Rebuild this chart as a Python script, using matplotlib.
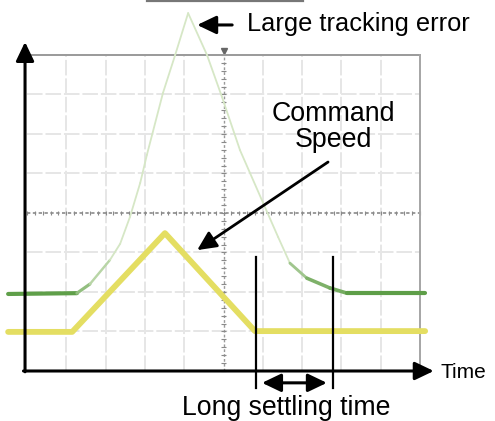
import numpy as np
import matplotlib
matplotlib.use("Agg")
import matplotlib.pyplot as plt
from matplotlib.collections import LineCollection
from matplotlib.colors import to_rgb

plt.rcParams["font.family"] = ["Liberation Sans", "DejaVu Sans"]

# Scope traces (x = time in divisions, y = level in divisions)
tracking_t = [-0.48, 1.27, 1.60, 2.11, 2.37, 2.62, 2.88, 3.05, 3.46, 3.77, 4.10,
              4.58, 4.96, 5.42, 6.01, 6.39, 6.69, 7.12, 7.71, 8.14, 10.13]
tracking_v = [1.95, 1.97, 2.20, 2.81, 3.22, 3.90, 4.76, 5.47, 7.04, 8.00, 9.06,
              8.00, 6.94, 5.59, 4.25, 3.39, 2.73, 2.35, 2.10, 1.97, 1.97]

speed_t = [-0.48, 1.15, 3.51, 5.80, 10.13]
speed_v = [0.99, 0.99, 3.49, 1.01, 1.01]

n_xdiv = 10
n_ydiv = 8

fig = plt.figure(figsize=(4.95, 4.21), dpi=100)
ax = fig.add_axes([0, 0, 1, 1])
ax.set_xlim(-0.687, 11.908)
ax.set_ylim(-1.266, 9.392)
ax.axis("off")

# scope grid (very faint)
for gx in range(1, n_xdiv):
    if gx != n_xdiv // 2:
        ax.plot([gx, gx], [0, n_ydiv], color="#e6e6e6", lw=1.4, ls=(0, (8, 1.5)), zorder=1)
for gy in range(1, n_ydiv):
    if gy != n_ydiv // 2:
        ax.plot([0, n_xdiv], [gy, gy], color="#e6e6e6", lw=1.4, ls=(0, (8, 1.5)), zorder=1)

# centre lines with minor ticks
ax.plot([0, n_xdiv], [n_ydiv / 2] * 2, color="#8a8a8a", lw=1.2, ls=(0, (2, 1.5)), zorder=1)
ax.plot([n_xdiv / 2] * 2, [0, n_ydiv], color="#9a9a9a", lw=1.0, ls=(0, (2, 1.5)), zorder=1)
minor_x = np.arange(0, n_xdiv + 0.01, 0.2)
minor_y = np.arange(0, n_ydiv + 0.01, 0.2)
ax.vlines(minor_x, n_ydiv / 2 - 0.06, n_ydiv / 2 + 0.06, color="#8a8a8a", lw=0.8, zorder=1)
ax.hlines(minor_y, n_xdiv / 2 - 0.06, n_xdiv / 2 + 0.06, color="#8a8a8a", lw=0.8, zorder=1)
ax.plot(n_xdiv / 2, n_ydiv + 0.1, marker="v", color="#666666", ms=4, zorder=1)

# scope frame
ax.plot([0, n_xdiv], [n_ydiv, n_ydiv], color="#9a9a9a", lw=1.4, zorder=1)
ax.plot([n_xdiv, n_xdiv], [0, n_ydiv], color="#a5a5a5", lw=1.4, zorder=1)
ax.plot([3.05, 7.02], [9.37, 9.37], color="#777777", lw=1.6, zorder=1)

# tracking trace: pale where the beam moves fast
pts = np.column_stack([tracking_t, tracking_v])
segs = np.stack([pts[:-1], pts[1:]], axis=1)
slope = np.abs(np.diff(tracking_v) / np.diff(tracking_t))
mix = np.clip(slope / 1.6, 0, 1)[:, None]
dark = np.array(to_rgb("#5e9e48"))
pale = np.array(to_rgb("#d6e7c6"))
cols = dark * (1 - mix) + pale * mix
lc = LineCollection(segs, colors=cols, linewidths=3.0 - 1.7 * mix.ravel(),
                    capstyle="round", joinstyle="round", zorder=2)
ax.add_collection(lc)

# command speed trace
ax.plot(speed_t, speed_v, color="#e4de62", lw=4.2, solid_capstyle="round",
        solid_joinstyle="round", zorder=3)

# axes with arrows
arrow = dict(arrowstyle="-|>,head_length=1.15,head_width=0.55", color="black",
             lw=2.2, mutation_scale=10, shrinkA=0, shrinkB=0)
ax.annotate("", xy=(-0.05, 8.33), xytext=(-0.05, -0.02), arrowprops=arrow, zorder=5)
ax.annotate("", xy=(10.35, 0), xytext=(-0.09, 0), arrowprops=arrow, zorder=5)
ax.text(10.51, -0.03, "Time", fontsize=15, va="center", ha="left")

# annotations
ax.annotate("", xy=(4.33, 8.76), xytext=(5.22, 8.76), arrowprops=arrow, zorder=5)
ax.text(5.60, 8.78, "Large tracking error", fontsize=18.3, va="center", ha="left")

ax.text(7.79, 6.18, "Command\nSpeed", fontsize=19.3, va="center", ha="center",
        linespacing=1.0)
ax.annotate("", xy=(4.33, 3.06), xytext=(7.66, 5.29),
            arrowprops=dict(arrow, lw=2.0), zorder=5)

ax.plot([5.83, 5.83], [2.89, -0.43], color="black", lw=1.6, zorder=5)
ax.plot([7.79, 7.79], [2.89, -0.43], color="black", lw=1.6, zorder=5)
ax.annotate("", xy=(7.63, -0.30), xytext=(5.98, -0.30),
            arrowprops=dict(arrow, arrowstyle="<|-|>,head_length=1.15,head_width=0.55"),
            zorder=5)
ax.text(6.59, -0.93, "Long settling time", fontsize=19.2, va="center", ha="center")

fig.savefig("out.png", dpi=100)
